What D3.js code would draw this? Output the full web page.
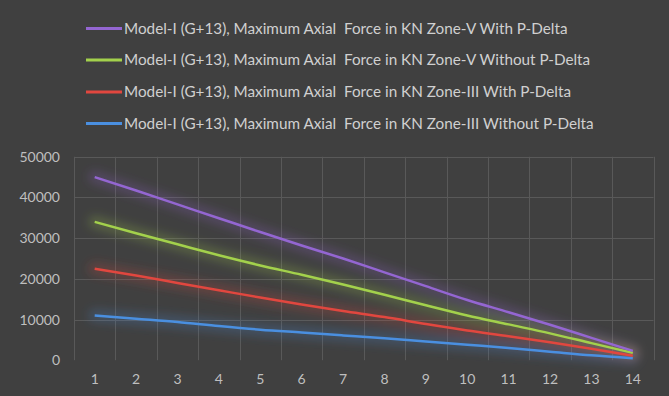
<!DOCTYPE html>
<html><head><meta charset="utf-8">
<script src="https://cdn.jsdelivr.net/npm/d3@7"></script>
<style>html,body{margin:0;padding:0;background:#404040;}svg{display:block;}</style>
</head><body>
<svg id="chart" width="669" height="396"></svg>
<script>
const categories = [1,2,3,4,5,6,7,8,9,10,11,12,13,14];
const seriesNames = [
  "Model-I (G+13), Maximum Axial  Force in KN Zone-V With P-Delta",
  "Model-I (G+13), Maximum Axial  Force in KN Zone-V Without P-Delta",
  "Model-I (G+13), Maximum Axial  Force in KN Zone-III With P-Delta",
  "Model-I (G+13), Maximum Axial  Force in KN Zone-III Without P-Delta"
];
const zoneVWith    = [45000,41700,38300,34900,31500,28200,25000,21600,18200,14800,11800,8700,5500,2300];
const zoneVWithout = [34000,31200,28500,25800,23300,21000,18600,16100,13500,11000,8800,6600,4200,1800];
const zoneIIIWith  = [22500,20800,19000,17200,15400,13700,12100,10600,8900,7300,5900,4400,2800,1100];
const zoneIIIWithout = [11000,10200,9400,8400,7500,6800,6100,5400,4600,3800,3000,2100,1200,500];
const yTicks = [0,10000,20000,30000,40000,50000];
const colors = ["#9466d2","#a3d14c","#e1473f","#4a8fe0"];

const series = [zoneVWith, zoneVWithout, zoneIIIWith, zoneIIIWithout];
const svg = d3.select("#chart");
const font = "Lato, 'Open Sans', sans-serif";

svg.append("rect").attr("width",669).attr("height",396).attr("fill","#404040");

const x = d3.scaleBand().domain(categories).range([74, 653.5]).padding(0);
const y = d3.scaleLinear().domain([0,50000]).range([360.2, 156.8]);

const defs = svg.append("defs");
const f = defs.append("filter").attr("id","glow").attr("x","-20%").attr("y","-50%").attr("width","140%").attr("height","200%");
f.append("feGaussianBlur").attr("stdDeviation",5);

// gridlines
const grid = svg.append("g");
grid.selectAll("line.h").data(yTicks.filter(d=>d>0)).join("line")
  .attr("x1",74).attr("x2",653.5)
  .attr("y1",d=>Math.round(y(d))+0.5).attr("y2",d=>Math.round(y(d))+0.5)
  .attr("stroke","#595959").attr("stroke-width",1);
const edges = categories.map(c=>x(c)).concat([x(14)+x.bandwidth()]);
grid.selectAll("line.v").data(edges).join("line")
  .attr("x1",d=>Math.round(d)+0.5).attr("x2",d=>Math.round(d)+0.5)
  .attr("y1",y(50000)).attr("y2",y(0))
  .attr("stroke","#595959").attr("stroke-width",1);

// axes (labels only)
const yAxis = svg.append("g").attr("transform","translate(60,0)")
  .call(d3.axisLeft(y).tickValues(yTicks).tickSize(0).tickPadding(0).tickFormat(d3.format("d")));
yAxis.select(".domain").remove();
yAxis.selectAll("text").attr("fill","#bfbfbf").attr("font-size",14).attr("font-family",font);

const xAxis = svg.append("g").attr("transform","translate(0,374)")
  .call(d3.axisBottom(x).tickSize(0).tickPadding(0));
xAxis.select(".domain").remove();
xAxis.selectAll("text").attr("fill","#bfbfbf").attr("font-size",14).attr("font-family",font);

// lines
const line = d3.line().x((d,i)=>x(categories[i])+x.bandwidth()/2).y(d=>y(d)).curve(d3.curveMonotoneX);
const glowG = svg.append("g").attr("filter","url(#glow)");
series.forEach((s,i)=>{
  glowG.append("path").attr("d",line(s)).attr("fill","none").attr("stroke",colors[i])
    .attr("stroke-width",13).attr("stroke-opacity",0.22).attr("stroke-linecap","round");
});
series.slice().reverse().forEach((s,j)=>{
  const i = series.length-1-j;
  svg.append("path").attr("d",line(s)).attr("fill","none").attr("stroke",colors[i])
    .attr("stroke-width",2.5).attr("stroke-linejoin","round");
});

// legend
const legendY = [28.5,60,92,123.5];
const lg = svg.append("g");
seriesNames.forEach((n,i)=>{
  lg.append("line").attr("x1",86).attr("x2",122).attr("y1",legendY[i]).attr("y2",legendY[i])
    .attr("stroke",colors[i]).attr("stroke-width",3);
  lg.append("text").attr("x",124).attr("y",legendY[i]).attr("dy","0.35em")
    .attr("fill","#d0d0d0").attr("font-size",14).attr("font-family",font)
    .attr("xml:space","preserve").style("white-space","pre").text(n);
});
const t0 = lg.select("text").node();
const w0 = t0.getComputedTextLength();
const fs = 14*444/w0;
lg.selectAll("text").attr("font-size",fs);
</script>
</body></html>
